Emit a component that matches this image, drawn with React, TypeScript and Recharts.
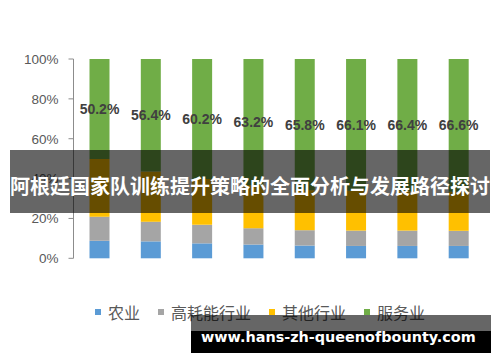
import React from 'react';
import { BarChart, Bar, XAxis, YAxis, Legend, LabelList } from 'recharts';

const years = ['2015', '2020', '2025', '2030', '2035', '2040', '2045', '2050'];
const agriculture = [8.8, 8.5, 7.5, 6.9, 6.4, 6.2, 6.2, 6.2];
const energyIntensive = [12.1, 9.9, 9.3, 8.2, 7.7, 7.7, 7.7, 7.6];
const otherIndustry = [28.9, 25.2, 23.0, 21.7, 20.1, 20.0, 19.7, 19.6];
const services = [50.2, 56.4, 60.2, 63.2, 65.8, 66.1, 66.4, 66.6];
const yTicks = [0, 20, 40, 60, 80, 100];
const boundaryTicks = [0, 1, 2, 3, 4, 5, 6, 7, 8];

const seriesNames = ['农业', '高耗能行业', '其他行业', '服务业'];
const seriesColors = ['#5B9BD5', '#A5A5A5', '#FFC000', '#70AD47'];

const titleText = '阿根廷国家队训练提升策略的全面分析与发展路径探讨';
const watermarkText = 'www.hans-zh-queenofbounty.com';

const data = years.map((y, i) => ({
  year: y,
  [seriesNames[0]]: agriculture[i],
  [seriesNames[1]]: energyIntensive[i],
  [seriesNames[2]]: otherIndustry[i],
  [seriesNames[3]]: services[i],
}));

const numFont = '"Liberation Sans", Arial, sans-serif';
const cjkFont = '"Noto Sans CJK SC", "Noto Sans", sans-serif';

const LegendContent = () => (
  <div style={{ display: 'flex', alignItems: 'center', height: 20, fontFamily: cjkFont, fontSize: 16, color: '#595959', lineHeight: '20px' }}>
    {seriesNames.map((n, i) => (
      <div key={n} style={{ display: 'flex', alignItems: 'center', marginRight: 18 }}>
        <span style={{ display: 'inline-block', width: 6, height: 6, background: seriesColors[i], marginRight: 7 }} />
        <span>{n}</span>
      </div>
    ))}
  </div>
);

export default function App() {
  return (
    <div style={{ position: 'absolute', left: 0, top: 0, width: 500, height: 362, background: '#fff', overflow: 'hidden' }}>
      <BarChart
        width={500}
        height={362}
        data={data}
        margin={{ top: 59, right: 16, bottom: 83.7, left: 0 }}
        barSize={20}
      >
        <XAxis
          xAxisId="cat"
          dataKey="year"
          type="category"
          height={0}
          interval={0}
          axisLine={{ stroke: '#8C8C8C' }}
          tickLine={false}
          tickSize={0}
          tickMargin={17}
          tick={{ fontFamily: numFont, fontSize: 14, fontWeight: 'bold', fill: '#595959' }}
        />
        <XAxis
          xAxisId="grid"
          type="number"
          domain={[0, 8]}
          ticks={boundaryTicks}
          allowDataOverflow
          height={0}
          axisLine={false}
          tick={false}
          tickSize={5}
          tickLine={{ stroke: '#8C8C8C' }}
        />
        <YAxis
          width={73.5}
          domain={[0, 100]}
          ticks={yTicks}
          interval={0}
          tickFormatter={(v: number) => `${v}%`}
          axisLine={{ stroke: '#8C8C8C' }}
          tickLine={{ stroke: '#8C8C8C' }}
          tickSize={5}
          tickMargin={10}
          tick={{ fontFamily: numFont, fontSize: 13.5, fill: '#595959' }}
        />
        <Legend
          verticalAlign="bottom"
          content={<LegendContent />}
          wrapperStyle={{ left: 95, bottom: 40, width: 400, height: 20 }}
        />
        {seriesNames.map((n, i) => (
          <Bar key={n} xAxisId="cat" dataKey={n} stackId="a" fill={seriesColors[i]} isAnimationActive={false}>
            {i === 3 ? (
              <LabelList
                dataKey={n}
                position="center"
                formatter={(v: any) => `${Number(v).toFixed(1)}%`}
                style={{ fontFamily: numFont, fontSize: 14, fontWeight: 'bold', fill: '#404040' }}
              />
            ) : null}
          </Bar>
        ))}
      </BarChart>
      <div
        style={{
          position: 'absolute', left: 10, top: 150, width: 480, height: 63,
          background: 'rgba(0,0,0,0.6)',
        }}
      />
      <div
        style={{
          position: 'absolute', left: 10, top: 176, width: 490, height: 20,
          lineHeight: '20px', fontFamily: cjkFont, fontWeight: 'bold', fontSize: 20,
          color: '#fff', whiteSpace: 'nowrap',
        }}
      >
        {titleText}
      </div>
      <div style={{ position: 'absolute', left: 191, top: 315, width: 300, height: 16, background: 'rgba(0,0,0,0.6)' }} />
      <div style={{ position: 'absolute', left: 191, top: 331, width: 300, height: 22, background: '#000' }} />
      <div
        style={{
          position: 'absolute', left: 201, top: 328, height: 18, lineHeight: '18px',
          fontFamily: '"DejaVu Sans", sans-serif', fontWeight: 'bold', fontSize: 14.4,
          color: '#fff', whiteSpace: 'nowrap',
        }}
      >
        {watermarkText}
      </div>
    </div>
  );
}
